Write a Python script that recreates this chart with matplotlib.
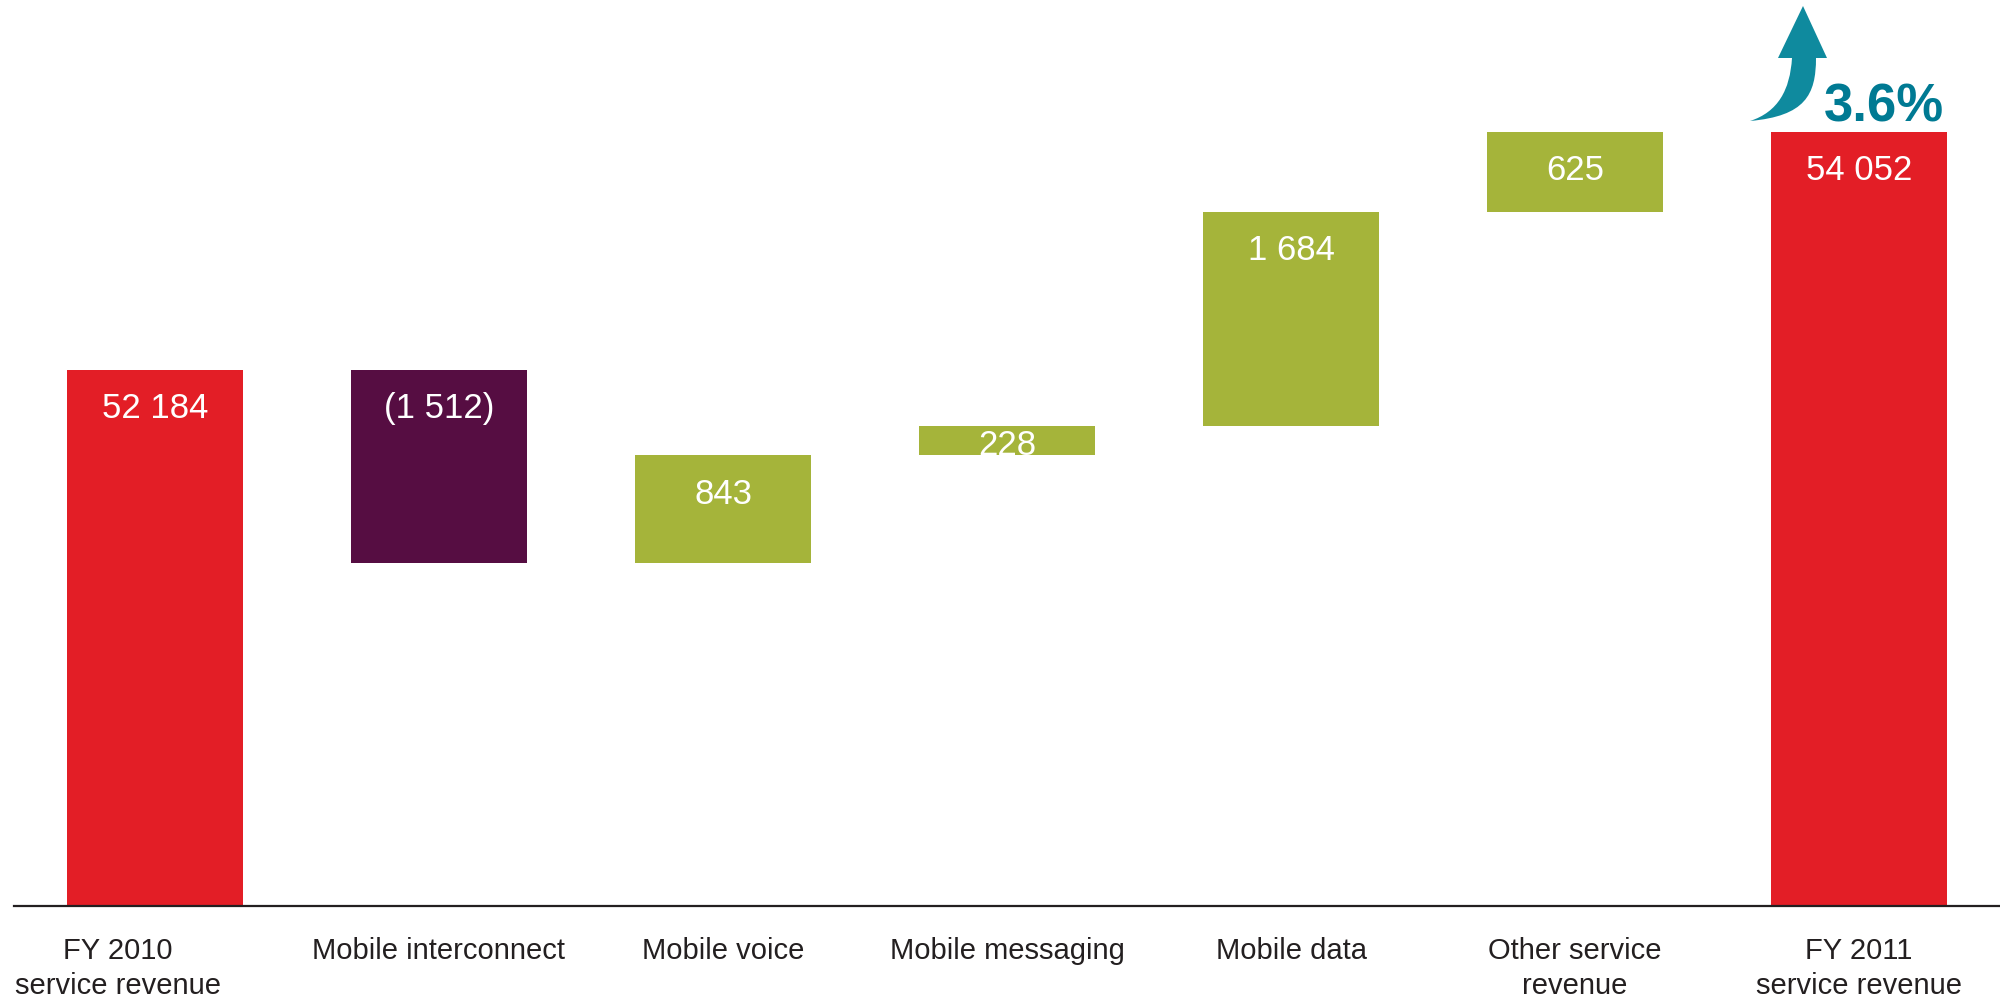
import matplotlib
matplotlib.use("Agg")
import matplotlib.pyplot as plt
from matplotlib.patches import PathPatch
from matplotlib.path import Path
from matplotlib.transforms import Affine2D

plt.rcParams["font.family"] = ["Liberation Sans", "DejaVu Sans"]

# Service revenue walk, FY 2010 to FY 2011
categories = ["FY 2010\nservice revenue", "Mobile interconnect", "Mobile voice",
              "Mobile messaging", "Mobile data", "Other service\nrevenue",
              "FY 2011\nservice revenue"]
changes = [52184, -1512, 843, 228, 1684, 625, 54052]
value_labels = ["52 184", "(1 512)", "843", "228", "1 684", "625", "54 052"]
growth_label = "3.6%"

RED = "#E31E26"
PURPLE = "#560D42"
GREEN = "#A5B43A"
TEAL = "#007A93"
ARROW = "#0F8A9E"
INK = "#231F20"

W, H = 2000, 998
AXIS_FLOOR = 47977
AXIS_TOP = 55088
BASELINE_PX = 906

fig = plt.figure(figsize=(W / 100, H / 100), dpi=100, facecolor="white")
ax = fig.add_axes([13 / W, 1 - BASELINE_PX / H, 1988 / W, BASELINE_PX / H])
ax.set_xlim(-0.5, 6.5)
ax.set_ylim(AXIS_FLOOR, AXIS_TOP)

# Running totals give each floating bar its span
level = 0
for i, (name, change, text) in enumerate(zip(categories, changes, value_labels)):
    if i in (0, len(changes) - 1):
        low, high, color = AXIS_FLOOR, change, RED
        level = change
    else:
        start = level
        level += change
        low, high = min(start, level), max(start, level)
        color = GREEN if change > 0 else PURPLE
    ax.bar(i, high - low, bottom=low, width=0.618, color=color, linewidth=0, zorder=2)
    drop = 19 if abs(change) < 300 else 39
    ax.annotate(text, (i, high), xytext=(0, -drop), textcoords="offset pixels",
                ha="center", va="center", color="white", fontsize=25, zorder=3)

# The baseline runs nearly the full width; category names sit beneath it
for side in ("top", "left", "right"):
    ax.spines[side].set_visible(False)
ax.spines["bottom"].set_color(INK)
ax.spines["bottom"].set_linewidth(1.6)
ax.spines["bottom"].set_bounds(-0.495, 6.5)
ax.set_yticks([])
ax.set_xticks([])

label_shift = {0: -37}
for i, name in enumerate(categories):
    shift = label_shift.get(i, 0)
    for j, line in enumerate(name.split("\n")):
        ax.annotate(line, (i, AXIS_FLOOR), xytext=(shift, -45.5 - 34.5 * j),
                    textcoords="offset pixels", ha="center", va="center",
                    color=INK, fontsize=21, annotation_clip=False)

# Curved growth arrow above the last bar, laid out in pixels from the top-left
verts = [(1803, 6), (1827, 58), (1816, 58),
         (1816, 95), (1805, 116), (1750, 121),
         (1778, 112), (1790, 90), (1792, 58),
         (1778, 58), (1803, 6)]
codes = [Path.MOVETO, Path.LINETO, Path.LINETO,
         Path.CURVE4, Path.CURVE4, Path.CURVE4,
         Path.CURVE4, Path.CURVE4, Path.CURVE4,
         Path.LINETO, Path.CLOSEPOLY]
to_canvas = Affine2D().scale(1, -1).translate(0, H)
fig.add_artist(PathPatch(Path(verts, codes), facecolor=ARROW, edgecolor="none",
                         transform=to_canvas))

fig.text(1884 / W, 1 - 108 / H, growth_label, color=TEAL, fontsize=38, fontweight="bold",
         ha="center", va="center")

fig.savefig("out.png", dpi=100, facecolor="white")
